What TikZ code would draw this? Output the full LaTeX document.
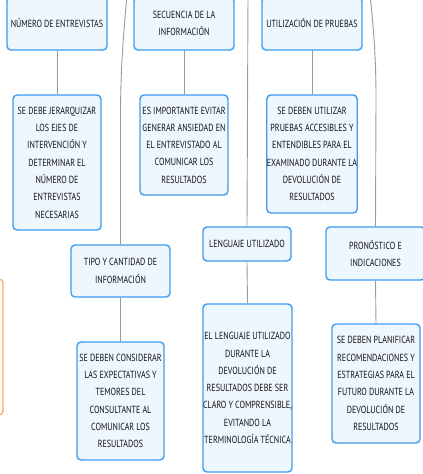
\documentclass[tikz,border=0pt]{standalone}
\usepackage{fontspec}
\setmainfont{PT Sans}[FakeStretch=0.78]
\definecolor{boxfill}{HTML}{EEF6FE}
\definecolor{boxline}{HTML}{3D9CF2}
\definecolor{orangeline}{HTML}{F8A94E}
\definecolor{linkgray}{HTML}{9A9A9A}
\definecolor{txt}{HTML}{141414}
\tikzset{
  card/.style={draw=boxline, line width=1.4pt, fill=boxfill, rounded corners=4pt,
    align=center, text=txt, inner sep=0pt, font=\fontsize{10.3}{17.3}\selectfont},
  link/.style={draw=linkgray, line width=0.9pt},
}
\begin{document}
\begin{tikzpicture}[x=1pt,y=-1pt]
\useasboundingbox (0,0) rectangle (423,474);
\clip (0,0) rectangle (423,474);
\fill[white] (0,0) rectangle (423,474);

% branch connectors from above
\coordinate (topA) at (127,-5);
\coordinate (topB) at (248,-5);
\coordinate (topC) at (370,-5);

% orange box (partly visible)
\node[draw=orangeline, line width=1.2pt, fill=white, rounded corners=4pt,
  minimum width=60pt, minimum height=136pt] (orange) at (-27,347) {};

% top row
\node[card, minimum width=100pt, minimum height=53pt] (n1) at (57,23.5) {NÚMERO DE ENTREVISTAS};
\node[card, minimum width=100pt, minimum height=53pt] (n2) at (184,23.5) {SECUENCIA DE LA\\INFORMACIÓN};
\node[card, minimum width=100pt, minimum height=53pt] (n3) at (312,23.5) {UTILIZACIÓN DE PRUEBAS};

\node[card, minimum width=88pt, minimum height=135pt] (d1) at (57,162.5)
  {SE DEBE JERARQUIZAR\\LOS EJES DE\\INTERVENCIÓN Y\\DETERMINAR EL\\NÚMERO DE\\ENTREVISTAS\\NECESARIAS};
\node[card, minimum width=88pt, minimum height=100pt] (d2) at (184,145)
  {ES IMPORTANTE EVITAR\\GENERAR ANSIEDAD EN\\EL ENTREVISTADO AL\\COMUNICAR LOS\\RESULTADOS};
\node[card, minimum width=88pt, minimum height=118pt] (d3) at (312,154)
  {SE DEBEN UTILIZAR\\PRUEBAS ACCESIBLES Y\\ENTENDIBLES PARA EL\\EXAMINADO DURANTE LA\\DEVOLUCIÓN DE\\RESULTADOS};

% second row
\node[card, minimum width=99pt, minimum height=52pt] (t) at (120.5,271) {TIPO Y CANTIDAD DE\\INFORMACIÓN};
\node[card, minimum width=87pt, minimum height=118pt] (td) at (120.5,401)
  {SE DEBEN CONSIDERAR\\LAS EXPECTATIVAS Y\\TEMORES DEL\\CONSULTANTE AL\\COMUNICAR LOS\\RESULTADOS};

\node[card, minimum width=88pt, minimum height=34pt] (l) at (247,244) {LENGUAJE UTILIZADO};
\node[card, minimum width=87pt, minimum height=168pt] (ld) at (247.5,388)
  {EL LENGUAJE UTILIZADO\\DURANTE LA\\DEVOLUCIÓN DE\\RESULTADOS DEBE SER\\CLARO Y COMPRENSIBLE,\\EVITANDO LA\\TERMINOLOGÍA TÉCNICA};

\node[card, minimum width=99pt, minimum height=53pt] (p) at (375.5,253.5) {PRONÓSTICO E\\INDICACIONES};
\node[card, minimum width=88pt, minimum height=119pt] (pd) at (376,383.5)
  {SE DEBEN PLANIFICAR\\RECOMENDACIONES Y\\ESTRATEGIAS PARA EL\\FUTURO DURANTE LA\\DEVOLUCIÓN DE\\RESULTADOS};

% connectors
\draw[link] (n1.south) -- (d1.north);
\draw[link] (n2.south) -- (d2.north);
\draw[link] (n3.south) -- (d3.north);
\draw[link] (t.south) -- (td.north);
\draw[link] (l.south) -- (ld.north);
\draw[link] (p.south) -- (pd.north);
\draw[link] (topA) .. controls (121,60) and (120.5,90) .. (120.5,120) -- (t.north);
\draw[link] (topB) -- (l.north);
\draw[link] (topC) .. controls (375,40) and (376,70) .. (376,100) -- (p.north);
\end{tikzpicture}
\end{document}
